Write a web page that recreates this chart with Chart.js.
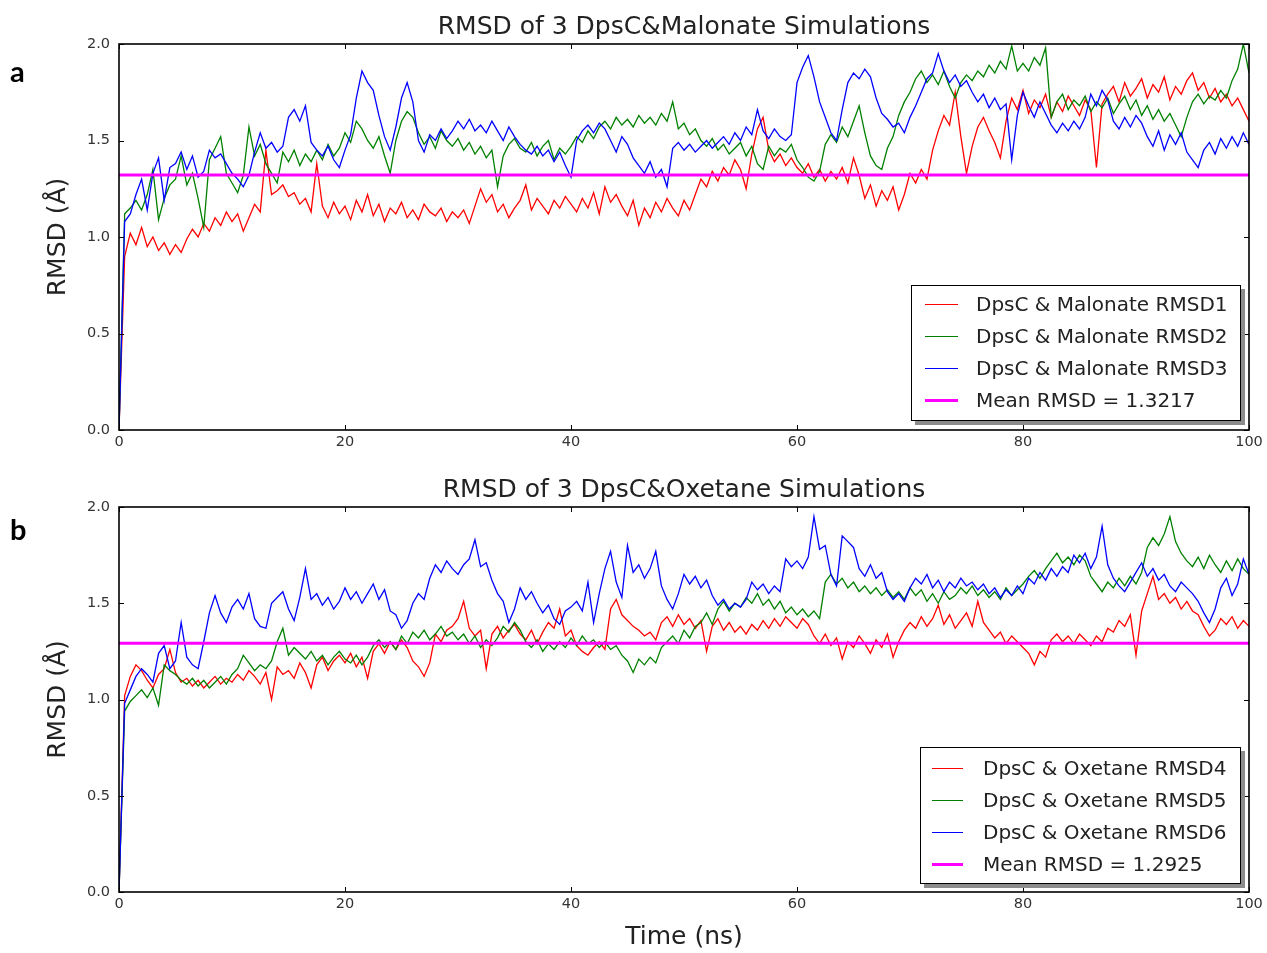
<!DOCTYPE html>
<html lang="en">
<head>
<meta charset="UTF-8">
<title>RMSD of DpsC Simulations</title>
<script src="https://cdn.jsdelivr.net/npm/chart.js@4.4.1/dist/chart.umd.min.js"></script>
<style>
    body { margin: 0; background: #fff; }
    #page { position: relative; width: 1267px; height: 953px; overflow: hidden; background: #fff; }
    canvas { position: absolute; left: 0; }
    .tag { position: absolute; left: 10px; font: bold 29px Lato, "Liberation Sans", sans-serif; line-height: 29px; color: #000; }
    .legend { position: absolute; background: #fff; border: 1px solid #000; box-shadow: 4px 4px 0 #8c8c8c;
              font-family: "DejaVu Sans", sans-serif; font-size: 20px; color: #222; box-sizing: border-box; }
    .legend div { height: 32px; display: flex; align-items: center; white-space: nowrap; }
    .legend i { display: inline-block; height: 0; border-top: 1.5px solid; }
    .legend i.mean { border-top-width: 3px; }
</style>
</head>
<body>
<div id="page">
    <canvas id="chartA" width="1267" height="460" style="top:0"></canvas>
    <canvas id="chartB" width="1267" height="490" style="top:463px"></canvas>
    <div class="tag" style="top:56px">a</div>
    <div class="tag" style="top:514px">b</div>

    <div class="legend" style="left:911px;top:285px;width:330px;height:136px;padding-top:2px">
        <div><i style="border-color:#ff0000;width:33px;margin:0 18px 0 13px"></i>DpsC &amp; Malonate RMSD1</div>
        <div><i style="border-color:#008000;width:33px;margin:0 18px 0 13px"></i>DpsC &amp; Malonate RMSD2</div>
        <div><i style="border-color:#0000ff;width:33px;margin:0 18px 0 13px"></i>DpsC &amp; Malonate RMSD3</div>
        <div><i class="mean" style="border-color:#ff00ff;width:33px;margin:0 18px 0 13px"></i>Mean RMSD = 1.3217</div>
    </div>
    <div class="legend" style="left:920px;top:747px;width:321px;height:137px;padding-top:4px">
        <div><i style="border-color:#ff0000;width:31px;margin:0 20px 0 11px"></i>DpsC &amp; Oxetane RMSD4</div>
        <div><i style="border-color:#008000;width:31px;margin:0 20px 0 11px"></i>DpsC &amp; Oxetane RMSD5</div>
        <div><i style="border-color:#0000ff;width:31px;margin:0 20px 0 11px"></i>DpsC &amp; Oxetane RMSD6</div>
        <div><i class="mean" style="border-color:#ff00ff;width:31px;margin:0 20px 0 11px"></i>Mean RMSD = 1.2925</div>
    </div>
</div>

<script>
    // sampling step of the RMSD traces (ns)
    const STEP = 0.5;

    // panel a: DpsC & Malonate
    const malonate1 = [
        0.00, 0.90, 1.02, 0.96, 1.05, 0.95, 1.00, 0.93, 0.97, 0.91,
        0.96, 0.92, 0.99, 1.04, 1.00, 1.07, 1.03, 1.10, 1.06, 1.13,
        1.08, 1.12, 1.03, 1.10, 1.17, 1.13, 1.45, 1.22, 1.24, 1.27,
        1.21, 1.23, 1.17, 1.20, 1.13, 1.38, 1.16, 1.10, 1.18, 1.12,
        1.16, 1.09, 1.19, 1.13, 1.22, 1.11, 1.17, 1.08, 1.15, 1.12,
        1.18, 1.10, 1.14, 1.09, 1.17, 1.13, 1.11, 1.15, 1.08, 1.13,
        1.10, 1.14, 1.07, 1.16, 1.25, 1.18, 1.22, 1.13, 1.17, 1.10,
        1.15, 1.19, 1.27, 1.14, 1.20, 1.16, 1.12, 1.19, 1.15, 1.21,
        1.17, 1.13, 1.20, 1.15, 1.23, 1.12, 1.26, 1.18, 1.22, 1.16,
        1.11, 1.19, 1.06, 1.15, 1.10, 1.18, 1.13, 1.20, 1.15, 1.11,
        1.19, 1.14, 1.22, 1.30, 1.26, 1.34, 1.29, 1.36, 1.32, 1.40,
        1.35, 1.25, 1.43, 1.56, 1.62, 1.45, 1.39, 1.43, 1.37, 1.41,
        1.36, 1.33, 1.38, 1.31, 1.35, 1.29, 1.34, 1.30, 1.36, 1.28,
        1.41, 1.32, 1.20, 1.27, 1.16, 1.24, 1.19, 1.26, 1.14, 1.22,
        1.33, 1.28, 1.35, 1.30, 1.45, 1.55, 1.63, 1.58, 1.75, 1.52,
        1.33, 1.47, 1.57, 1.62, 1.55, 1.49, 1.41, 1.60, 1.72, 1.66,
        1.76, 1.64, 1.71, 1.67, 1.74, 1.62, 1.70, 1.65, 1.73, 1.68,
        1.63, 1.71, 1.66, 1.36, 1.69, 1.74, 1.78, 1.70, 1.80, 1.73,
        1.77, 1.82, 1.72, 1.79, 1.75, 1.83, 1.71, 1.78, 1.74, 1.81,
        1.85, 1.76, 1.80, 1.72, 1.77, 1.70, 1.74, 1.68, 1.72, 1.66,
        1.60
    ];
    const malonate2 = [
        0.00, 1.12, 1.15, 1.19, 1.14, 1.22, 1.35, 1.09, 1.20, 1.27,
        1.30, 1.42, 1.27, 1.33, 1.20, 1.05, 1.40, 1.46, 1.52, 1.33,
        1.28, 1.23, 1.32, 1.57, 1.42, 1.48, 1.38, 1.33, 1.28, 1.44,
        1.39, 1.45, 1.37, 1.43, 1.39, 1.45, 1.40, 1.48, 1.42, 1.46,
        1.54, 1.49, 1.60, 1.56, 1.50, 1.46, 1.52, 1.42, 1.33, 1.50,
        1.60, 1.65, 1.62, 1.54, 1.48, 1.52, 1.46, 1.55, 1.50, 1.47,
        1.51, 1.45, 1.49, 1.43, 1.47, 1.41, 1.45, 1.26, 1.42, 1.48,
        1.51, 1.46, 1.44, 1.49, 1.42, 1.47, 1.50, 1.40, 1.46, 1.43,
        1.47, 1.52, 1.49, 1.55, 1.51, 1.57, 1.60, 1.56, 1.62, 1.58,
        1.61, 1.57, 1.63, 1.59, 1.62, 1.58, 1.64, 1.60, 1.70, 1.56,
        1.59, 1.53, 1.56, 1.50, 1.47, 1.51, 1.45, 1.48, 1.43, 1.46,
        1.49, 1.42, 1.47, 1.38, 1.35, 1.47, 1.42, 1.46, 1.44, 1.48,
        1.40, 1.36, 1.31, 1.29, 1.34, 1.48, 1.53, 1.49, 1.57, 1.52,
        1.60, 1.68, 1.54, 1.42, 1.37, 1.35, 1.46, 1.52, 1.63, 1.70,
        1.75, 1.82, 1.86, 1.80, 1.84, 1.79, 1.86, 1.78, 1.72, 1.80,
        1.84, 1.81, 1.86, 1.83, 1.89, 1.85, 1.91, 1.87, 1.99, 1.86,
        1.90, 1.86, 1.93, 1.89, 1.98, 1.62, 1.70, 1.74, 1.66, 1.71,
        1.68, 1.73, 1.65, 1.70, 1.67, 1.72, 1.64, 1.69, 1.73, 1.66,
        1.71, 1.63, 1.68, 1.61, 1.66, 1.60, 1.64, 1.58, 1.52, 1.62,
        1.70, 1.74, 1.69, 1.73, 1.71, 1.76, 1.72, 1.81, 1.87, 2.00,
        1.85
    ];
    const malonate3 = [
        0.00, 1.08, 1.12, 1.22, 1.30, 1.14, 1.33, 1.41, 1.19, 1.36,
        1.38, 1.44, 1.35, 1.42, 1.31, 1.34, 1.45, 1.41, 1.43, 1.38,
        1.33, 1.30, 1.26, 1.32, 1.44, 1.54, 1.46, 1.49, 1.44, 1.47,
        1.62, 1.66, 1.60, 1.68, 1.49, 1.45, 1.42, 1.47, 1.40, 1.36,
        1.45, 1.53, 1.72, 1.86, 1.80, 1.76, 1.63, 1.52, 1.45, 1.57,
        1.72, 1.80, 1.70, 1.50, 1.44, 1.53, 1.50, 1.56, 1.51, 1.55,
        1.60, 1.56, 1.61, 1.55, 1.58, 1.54, 1.60, 1.55, 1.50, 1.57,
        1.52, 1.48, 1.45, 1.43, 1.47, 1.42, 1.45, 1.39, 1.44, 1.37,
        1.31, 1.50, 1.55, 1.58, 1.54, 1.59, 1.56, 1.50, 1.44, 1.52,
        1.48, 1.41, 1.37, 1.33, 1.39, 1.31, 1.35, 1.26, 1.46, 1.49,
        1.45, 1.48, 1.44, 1.47, 1.50, 1.46, 1.49, 1.52, 1.48, 1.54,
        1.50, 1.57, 1.53, 1.66, 1.55, 1.51, 1.56, 1.52, 1.50, 1.53,
        1.80, 1.88, 1.94, 1.83, 1.70, 1.62, 1.54, 1.50, 1.66, 1.80,
        1.85, 1.82, 1.87, 1.83, 1.72, 1.64, 1.61, 1.57, 1.59, 1.54,
        1.62, 1.68, 1.75, 1.82, 1.85, 1.95, 1.86, 1.80, 1.84, 1.78,
        1.81, 1.75, 1.70, 1.74, 1.67, 1.72, 1.66, 1.69, 1.40, 1.63,
        1.75, 1.68, 1.62, 1.70, 1.64, 1.58, 1.54, 1.59, 1.55, 1.60,
        1.56, 1.62, 1.74, 1.68, 1.76, 1.71, 1.60, 1.56, 1.62, 1.57,
        1.63, 1.59, 1.52, 1.47, 1.55, 1.45, 1.53, 1.48, 1.54, 1.44,
        1.40, 1.36, 1.45, 1.49, 1.43, 1.51, 1.46, 1.52, 1.47, 1.54,
        1.48
    ];
    const malonateMean = 1.3217;

    // panel b: DpsC & Oxetane
    const oxetane4 = [
        0.00, 1.02, 1.12, 1.18, 1.15, 1.10, 1.06, 1.13, 1.16, 1.26,
        1.14, 1.09, 1.11, 1.07, 1.10, 1.06, 1.09, 1.12, 1.08, 1.11,
        1.09, 1.13, 1.10, 1.15, 1.12, 1.08, 1.14, 1.00, 1.17, 1.13,
        1.15, 1.11, 1.19, 1.14, 1.06, 1.18, 1.22, 1.15, 1.20, 1.23,
        1.19, 1.24, 1.17, 1.22, 1.11, 1.25, 1.29, 1.24, 1.30, 1.26,
        1.31, 1.27, 1.20, 1.17, 1.12, 1.19, 1.34, 1.30, 1.36, 1.38,
        1.42, 1.51, 1.37, 1.33, 1.36, 1.16, 1.34, 1.38, 1.32, 1.36,
        1.39, 1.34, 1.31, 1.36, 1.29, 1.35, 1.40, 1.37, 1.47, 1.33,
        1.36, 1.28, 1.25, 1.23, 1.27, 1.30, 1.26, 1.47, 1.52, 1.44,
        1.41, 1.38, 1.36, 1.33, 1.35, 1.31, 1.40, 1.43, 1.38, 1.44,
        1.39, 1.42, 1.37, 1.41, 1.25, 1.38, 1.42, 1.36, 1.40, 1.35,
        1.38, 1.34, 1.39, 1.36, 1.41, 1.37, 1.42, 1.38, 1.43, 1.40,
        1.37, 1.42, 1.39, 1.33, 1.29, 1.34, 1.28, 1.32, 1.21, 1.30,
        1.27, 1.33, 1.29, 1.24, 1.31, 1.27, 1.34, 1.22, 1.30, 1.36,
        1.40, 1.37, 1.43, 1.38, 1.42, 1.49, 1.39, 1.44, 1.37, 1.41,
        1.45, 1.38, 1.51, 1.40, 1.36, 1.32, 1.35, 1.29, 1.33, 1.30,
        1.27, 1.24, 1.18, 1.25, 1.22, 1.31, 1.34, 1.30, 1.33, 1.29,
        1.34, 1.31, 1.28, 1.33, 1.30, 1.37, 1.35, 1.41, 1.38, 1.44,
        1.23, 1.46, 1.55, 1.64, 1.52, 1.55, 1.50, 1.53, 1.47, 1.51,
        1.46, 1.44, 1.38, 1.33, 1.36, 1.42, 1.39, 1.43, 1.37, 1.41,
        1.38
    ];
    const oxetane5 = [
        0.00, 0.94, 0.99, 1.02, 1.05, 1.01, 1.06, 0.97, 1.18, 1.15,
        1.13, 1.10, 1.08, 1.11, 1.07, 1.10, 1.06, 1.09, 1.12, 1.08,
        1.13, 1.16, 1.23, 1.19, 1.15, 1.18, 1.16, 1.20, 1.30, 1.37,
        1.23, 1.27, 1.24, 1.21, 1.25, 1.20, 1.23, 1.18, 1.22, 1.25,
        1.21, 1.19, 1.23, 1.18, 1.22, 1.28, 1.31, 1.27, 1.30, 1.26,
        1.33, 1.29, 1.35, 1.32, 1.36, 1.31, 1.34, 1.38, 1.33, 1.35,
        1.31, 1.34, 1.29, 1.33, 1.27, 1.31, 1.28, 1.32, 1.38, 1.35,
        1.40, 1.36, 1.30, 1.27, 1.31, 1.25, 1.29, 1.26, 1.30, 1.27,
        1.32, 1.28, 1.33, 1.29, 1.31, 1.27, 1.30, 1.26, 1.28, 1.23,
        1.20, 1.14, 1.21, 1.18, 1.22, 1.19, 1.27, 1.30, 1.33, 1.29,
        1.36, 1.32, 1.38, 1.40, 1.45, 1.39, 1.47, 1.51, 1.46, 1.50,
        1.48, 1.53, 1.50, 1.55, 1.49, 1.52, 1.47, 1.51, 1.45, 1.48,
        1.44, 1.47, 1.43, 1.46, 1.42, 1.61, 1.65, 1.60, 1.63, 1.58,
        1.61, 1.56, 1.59, 1.55, 1.58, 1.54, 1.57, 1.53, 1.56, 1.52,
        1.58, 1.54, 1.57, 1.51, 1.55, 1.50, 1.56, 1.52, 1.54, 1.58,
        1.55, 1.59, 1.54, 1.57, 1.53, 1.56, 1.52, 1.58, 1.54, 1.57,
        1.60, 1.64, 1.67, 1.63, 1.68, 1.72, 1.76, 1.71, 1.74, 1.70,
        1.75, 1.72, 1.64, 1.60, 1.56, 1.61, 1.58, 1.63, 1.59, 1.64,
        1.60, 1.66, 1.79, 1.84, 1.80, 1.86, 1.95, 1.82, 1.76, 1.72,
        1.69, 1.74, 1.68, 1.75, 1.70, 1.66, 1.72, 1.67, 1.73, 1.68,
        1.65
    ];
    const oxetane6 = [
        0.00, 0.98, 1.05, 1.12, 1.16, 1.13, 1.09, 1.24, 1.28, 1.16,
        1.20, 1.40, 1.22, 1.18, 1.16, 1.30, 1.45, 1.54, 1.45, 1.40,
        1.48, 1.52, 1.47, 1.55, 1.42, 1.38, 1.37, 1.50, 1.53, 1.56,
        1.47, 1.41, 1.53, 1.68, 1.52, 1.55, 1.49, 1.53, 1.47, 1.51,
        1.58, 1.52, 1.56, 1.50, 1.55, 1.60, 1.52, 1.57, 1.46, 1.44,
        1.37, 1.41, 1.50, 1.55, 1.52, 1.63, 1.70, 1.66, 1.72, 1.68,
        1.65, 1.70, 1.73, 1.83, 1.69, 1.71, 1.62, 1.55, 1.51, 1.40,
        1.47, 1.58, 1.52, 1.56, 1.50, 1.45, 1.49, 1.42, 1.39, 1.46,
        1.48, 1.51, 1.46, 1.61, 1.40, 1.55, 1.68, 1.77, 1.61, 1.53,
        1.80, 1.66, 1.70, 1.63, 1.68, 1.77, 1.59, 1.52, 1.47, 1.55,
        1.65, 1.60, 1.64, 1.58, 1.62, 1.54, 1.49, 1.52, 1.47, 1.50,
        1.48, 1.52, 1.61, 1.57, 1.60, 1.55, 1.59, 1.56, 1.73, 1.69,
        1.72, 1.68, 1.74, 1.95, 1.78, 1.80, 1.65, 1.59, 1.85, 1.82,
        1.79, 1.68, 1.64, 1.70, 1.63, 1.66, 1.56, 1.52, 1.55, 1.51,
        1.58, 1.63, 1.60, 1.65, 1.58, 1.62, 1.56, 1.61, 1.58, 1.63,
        1.59, 1.61, 1.57, 1.60, 1.55, 1.58, 1.53, 1.57, 1.54, 1.59,
        1.55, 1.63, 1.60, 1.66, 1.62, 1.68, 1.64, 1.69, 1.66, 1.75,
        1.71, 1.76, 1.68, 1.74, 1.90, 1.70, 1.63, 1.59, 1.56, 1.61,
        1.66, 1.71, 1.64, 1.68, 1.62, 1.65, 1.59, 1.56, 1.61, 1.58,
        1.55, 1.51, 1.45, 1.40, 1.47, 1.58, 1.63, 1.54, 1.60, 1.73,
        1.65
    ];
    const oxetaneMean = 1.2925;

    const timeRange = [0, 100];
    const colors = ['#ff0000', '#008000', '#0000ff'];
    const meanColor = '#ff00ff';

    Chart.defaults.font.family = "'DejaVu Sans', sans-serif";
    Chart.defaults.color = '#333';

    // draws the closed frame and inward tick marks, matplotlib style
    const frameTicks = {
        id: 'frameTicks',
        afterDraw(chart) {
            const { ctx, chartArea: a, scales: { x, y } } = chart;
            ctx.save();
            ctx.strokeStyle = '#000';
            ctx.lineWidth = 1;
            ctx.beginPath();
            x.ticks.forEach(t => {
                const px = Math.round(x.getPixelForValue(t.value)) + 0.5;
                ctx.moveTo(px, a.bottom); ctx.lineTo(px, a.bottom - 5);
                ctx.moveTo(px, a.top); ctx.lineTo(px, a.top + 5);
            });
            y.ticks.forEach(t => {
                const py = Math.round(y.getPixelForValue(t.value)) + 0.5;
                ctx.moveTo(a.left, py); ctx.lineTo(a.left + 5, py);
                ctx.moveTo(a.right, py); ctx.lineTo(a.right - 5, py);
            });
            ctx.stroke();
            ctx.lineWidth = 1.6;
            ctx.strokeRect(a.left, a.top, a.right - a.left, a.bottom - a.top);
            ctx.restore();
        }
    };

    function toPoints(values) {
        return values.map((v, i) => ({ x: i * STEP, y: v }));
    }

    function makePanel(id, title, series, mean, xTitle, xHeight) {
        // first dataset is drawn on top, so the mean goes first and RMSD1 last
        const datasets = [{
            data: timeRange.map(t => ({ x: t, y: mean })),
            borderColor: meanColor,
            borderWidth: 3
        }];
        for (let i = series.length - 1; i >= 0; i--) {
            datasets.push({
                data: toPoints(series[i]),
                borderColor: colors[i],
                borderWidth: 1.3
            });
        }
        datasets.forEach(d => { d.pointRadius = 0; d.tension = 0; d.fill = false; });

        return new Chart(document.getElementById(id), {
            type: 'line',
            data: { datasets },
            plugins: [frameTicks],
            options: {
                responsive: false,
                animation: false,
                devicePixelRatio: 1,
                layout: { padding: { left: 0, right: 18, top: 0, bottom: 0 } },
                plugins: {
                    legend: { display: false },
                    tooltip: { enabled: false },
                    title: {
                        display: true,
                        fullSize: false,   // centre the title over the plot area
                        text: title,
                        color: '#222',
                        font: { size: 25, weight: 'normal' },
                        padding: { top: 12, bottom: 2 }
                    }
                },
                scales: {
                    x: {
                        type: 'linear',
                        min: timeRange[0],
                        max: timeRange[1],
                        grid: { display: false, drawTicks: false },
                        border: { display: false },
                        ticks: { stepSize: 20, padding: 4, font: { size: 14.5 }, color: '#333', maxRotation: 0 },
                        title: {
                            display: !!xTitle,
                            text: xTitle,
                            color: '#222',
                            font: { size: 25 },
                            padding: { top: 0, bottom: 1 }
                        },
                        afterFit(scale) { scale.height = xHeight; }
                    },
                    y: {
                        min: 0,
                        max: 2,
                        grid: { display: false, drawTicks: false },
                        border: { display: false },
                        ticks: { stepSize: 0.5, padding: 9, font: { size: 14.5 }, color: '#333',
                                 callback: v => v.toFixed(1) },
                        title: {
                            display: true,
                            text: 'RMSD (Å)',
                            color: '#222',
                            font: { size: 25 },
                            padding: { top: 43, bottom: 0 }
                        },
                        afterFit(scale) { scale.width = 119; }
                    }
                }
            }
        });
    }

    makePanel('chartA', 'RMSD of 3 DpsC&Malonate Simulations',
        [malonate1, malonate2, malonate3], malonateMean, '', 30);
    makePanel('chartB', 'RMSD of 3 DpsC&Oxetane Simulations',
        [oxetane4, oxetane5, oxetane6], oxetaneMean, 'Time (ns)', 61);
</script>
</body>
</html>
